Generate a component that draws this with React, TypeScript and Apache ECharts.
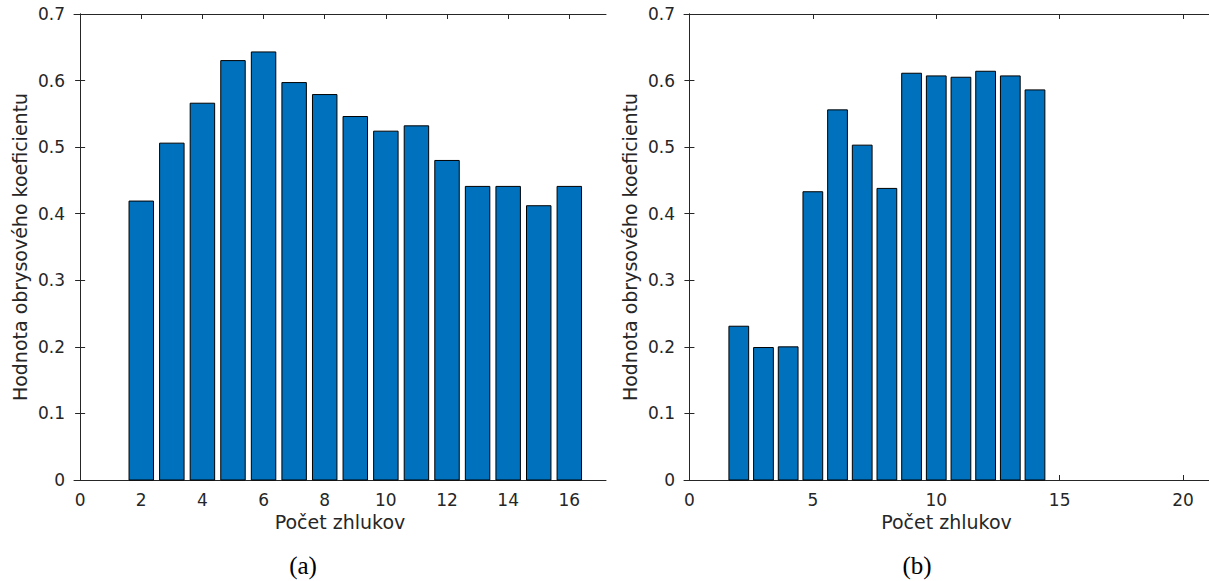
import React, { useEffect, useRef } from "react";
import * as echarts from "echarts";

// Silhouette coefficient vs. number of clusters, two experiments
const clustersA = [2, 3, 4, 5, 6, 7, 8, 9, 10, 11, 12, 13, 14, 15, 16];
const silhouetteA = [0.419, 0.506, 0.566, 0.630, 0.643, 0.597, 0.579, 0.546, 0.524, 0.532, 0.480, 0.441, 0.441, 0.412, 0.441];

const clustersB = [2, 3, 4, 5, 6, 7, 8, 9, 10, 11, 12, 13, 14];
const silhouetteB = [0.231, 0.199, 0.200, 0.433, 0.556, 0.503, 0.438, 0.611, 0.607, 0.605, 0.614, 0.607, 0.586];

const xTicksA = [0, 2, 4, 6, 8, 10, 12, 14, 16];
const xTicksB = [0, 5, 10, 15, 20];
const yTicks = [0, 0.1, 0.2, 0.3, 0.4, 0.5, 0.6, 0.7];

const xTitle = "Počet zhlukov";
const yTitle = "Hodnota obrysového koeficientu";
const captions = ["(a)", "(b)"];

const INK = "#262626";
const SANS = '"DejaVu Sans", "Liberation Sans", sans-serif';
const SERIF = '"Liberation Serif", "DejaVu Serif", serif';

const barItem = (_params: any, api: any) => {
  const x = api.value(0);
  const y = api.value(1);
  const top = api.coord([x, y]);
  const base = api.coord([x, 0]);
  const w = api.size([0.8, 0])[0];
  return {
    type: "rect",
    shape: { x: top[0] - w / 2, y: top[1], width: w, height: base[1] - top[1] },
    style: { fill: "#0072BD", stroke: "#000000", lineWidth: 1 },
  };
};

function xAxes(gridIndex: number, min: number, max: number, ticks: number[]) {
  const line = { show: true, lineStyle: { color: INK, width: 1 } };
  return [
    {
      type: "value",
      gridIndex,
      position: "bottom",
      min,
      max,
      name: xTitle,
      nameLocation: "middle",
      nameGap: 32,
      nameTextStyle: { fontFamily: SANS, fontSize: 19, color: INK },
      axisLine: { ...line, onZero: false },
      axisTick: { show: true, inside: true, length: 5, customValues: ticks, lineStyle: { color: INK } },
      axisLabel: { show: true, customValues: ticks, margin: 11, fontFamily: SANS, fontSize: 17, color: INK },
      splitLine: { show: false },
    },
    {
      type: "value",
      gridIndex,
      position: "top",
      min,
      max,
      axisLine: { ...line, onZero: false },
      axisTick: { show: true, inside: true, length: 5, customValues: ticks, lineStyle: { color: INK } },
      axisLabel: { show: false },
      splitLine: { show: false },
    },
  ];
}

function yAxes(gridIndex: number) {
  const common = {
    type: "value",
    gridIndex,
    min: yTicks[0],
    max: yTicks[yTicks.length - 1],
    interval: 0.1,
    splitLine: { show: false },
    axisLine: { show: true, lineStyle: { color: INK, width: 1 } },
    axisTick: { show: true, inside: true, length: 5, lineStyle: { color: INK } },
  };
  return [
    {
      ...common,
      position: "left",
      name: yTitle,
      nameLocation: "middle",
      nameGap: 45,
      nameTextStyle: { fontFamily: SANS, fontSize: 19, color: INK },
      axisLabel: {
        show: true,
        margin: 9,
        fontFamily: SANS,
        fontSize: 17,
        color: INK,
        formatter: (v: number) => (v === 0 ? "0" : v.toFixed(1)),
      },
    },
    { ...common, position: "right", axisLabel: { show: false } },
  ];
}

export default function App() {
  const ref = useRef<HTMLDivElement>(null);

  useEffect(() => {
    if (!ref.current) return;
    const chart = echarts.init(ref.current, undefined, { renderer: "svg" });
    const captionStyle = (text: string) => ({
      text,
      font: `25px ${SERIF}`,
      fill: "#000000",
      textAlign: "center",
      textVerticalAlign: "middle",
    });
    chart.setOption({
      animation: false,
      backgroundColor: "#ffffff",
      grid: [
        { left: 74, top: 14, width: 532, height: 466 },
        { left: 684, top: 14, width: 527, height: 466 },
      ],
      xAxis: [...xAxes(0, -0.2, 17.2, xTicksA), ...xAxes(1, -0.22, 21.05, xTicksB)],
      yAxis: [...yAxes(0), ...yAxes(1)],
      series: [
        {
          type: "custom",
          xAxisIndex: 0,
          yAxisIndex: 0,
          renderItem: barItem,
          encode: { x: 0, y: 1 },
          data: clustersA.map((c, i) => [c, silhouetteA[i]]),
        },
        {
          type: "custom",
          xAxisIndex: 2,
          yAxisIndex: 2,
          renderItem: barItem,
          encode: { x: 0, y: 1 },
          data: clustersB.map((c, i) => [c, silhouetteB[i]]),
        },
      ],
      graphic: [
        { type: "text", x: 303, y: 565, style: captionStyle(captions[0]) },
        { type: "text", x: 917, y: 565, style: captionStyle(captions[1]) },
      ],
    });
    return () => chart.dispose();
  }, []);

  return (
    <div
      ref={ref}
      style={{ position: "absolute", left: 0, top: 0, width: 1209, height: 581, background: "#fff" }}
    />
  );
}
